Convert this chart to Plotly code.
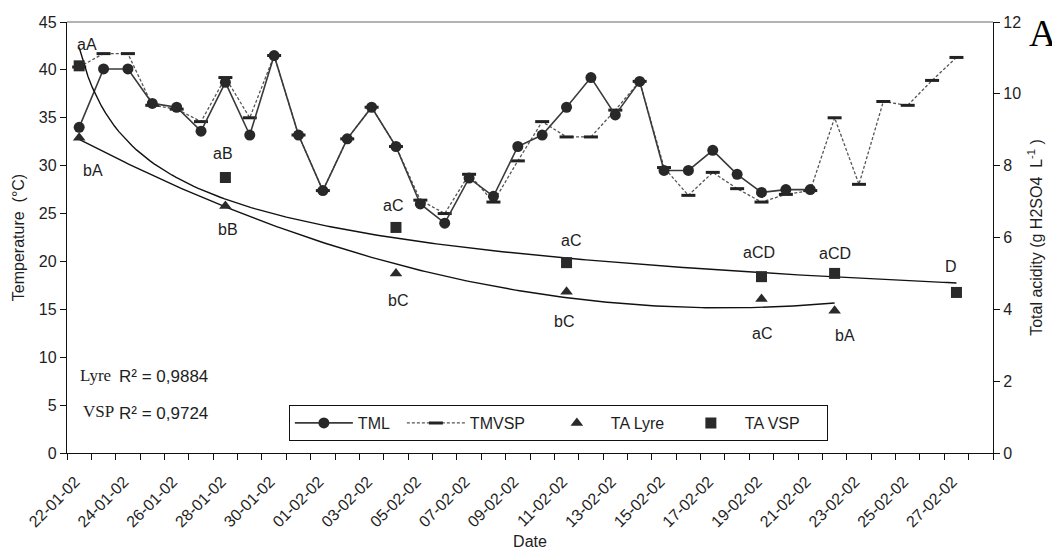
import numpy as np
import plotly.graph_objects as go

# ---------------- data ----------------
dates = ["22-01-02", "23-01-02", "24-01-02", "25-01-02", "26-01-02", "27-01-02",
         "28-01-02", "29-01-02", "30-01-02", "31-01-02", "01-02-02", "02-02-02",
         "03-02-02", "04-02-02", "05-02-02", "06-02-02", "07-02-02", "08-02-02",
         "09-02-02", "10-02-02", "11-02-02", "12-02-02", "13-02-02", "14-02-02",
         "15-02-02", "16-02-02", "17-02-02", "18-02-02", "19-02-02", "20-02-02",
         "21-02-02", "22-02-02", "23-02-02", "24-02-02", "25-02-02", "26-02-02",
         "27-02-02", "28-02-02"]

# mean temperature, Lyre (TML) -- from 22-01 to 21-02
tml = [34.0, 40.1, 40.1, 36.5, 36.1, 33.6, 38.7, 33.2, 41.5, 33.2, 27.4,
       32.8, 36.1, 32.0, 26.0, 24.0, 28.7, 26.8, 32.0, 33.2, 36.1, 39.2,
       35.3, 38.8, 29.5, 29.5, 31.6, 29.1, 27.2, 27.5, 27.5]

# mean temperature, VSP (TMVSP) -- from 22-01 to 27-02
tmvsp = [40.3, 41.7, 41.7, 36.3, 35.9, 34.6, 39.2, 35.0, 41.5, 33.2, 27.4,
         32.8, 36.1, 32.0, 26.4, 25.0, 29.1, 26.2, 30.5, 34.6, 33.0, 33.0,
         35.8, 38.8, 29.8, 26.9, 29.3, 27.6, 26.2, 27.0, 27.4, 35.0, 28.05,
         36.7, 36.3, 38.9, 41.3]

# total acidity (g H2SO4 / L)
ta_lyre_idx = [0, 6, 13, 20, 28, 31]
ta_lyre = [8.78, 6.88, 5.00, 4.49, 4.29, 3.96]
lyre_letters = ["bA", "bB", "bC", "bC", "aC", "bA"]

ta_vsp_idx = [0, 6, 13, 20, 28, 31, 36]
ta_vsp = [10.78, 7.67, 6.28, 5.30, 4.91, 5.00, 4.47]
vsp_letters = ["aA", "aB", "aC", "aC", "aCD", "aCD", "D"]

r2_lyre = "0,9884"
r2_vsp = "0,9724"

# ---------------- styles ----------------
FONT = "Liberation Sans, Arial, sans-serif"
SERIF = "Liberation Serif, Times New Roman, serif"
INK = "#1e1e1e"
lyre_shift = [(14, -33), (3, -24), (2, -27), (-3, -30), (0, -35), (10, -25)]
vsp_shift = [(8, 21), (-2, 24), (-3, 22), (4, 22), (-3, 24), (0, 20), (-5, 26)]

# ---------------- trend lines (fitted from data) ----------------
xl = np.array(ta_lyre_idx, dtype=float) + 1
coef_l = np.polyfit(xl, ta_lyre, 2)
xs_l = np.linspace(ta_lyre_idx[0], ta_lyre_idx[-1], 200)
ys_l = np.polyval(coef_l, xs_l + 1)

xv = np.array(ta_vsp_idx, dtype=float) + 1
k_v, lnc_v = np.polyfit(np.log(xv), np.log(ta_vsp), 1)
xs_v = np.linspace(ta_vsp_idx[0], ta_vsp_idx[-1], 200)
ys_v = np.exp(lnc_v) * (xs_v + 1) ** k_v

fig = go.Figure()

fig.add_trace(go.Scatter(x=xs_l, y=ys_l, yaxis="y2", mode="lines",
                         line=dict(color="#111", width=1.4), showlegend=False,
                         hoverinfo="skip"))
fig.add_trace(go.Scatter(x=xs_v, y=ys_v, yaxis="y2", mode="lines",
                         line=dict(color="#111", width=1.4), showlegend=False,
                         hoverinfo="skip"))

fig.add_trace(go.Scatter(
    x=list(range(len(tmvsp))), y=tmvsp, name="TMVSP", mode="lines+markers",
    line=dict(color="#555", width=1.3, dash="3px,2px"),
    marker=dict(symbol="line-ew", size=10, line=dict(color="#222", width=3)),
    legendrank=2, legendwidth=68))

fig.add_trace(go.Scatter(
    x=list(range(len(tml))), y=tml, name="TML", mode="lines+markers",
    line=dict(color="#3a3a3a", width=1.6),
    marker=dict(symbol="circle", size=11, color="#282828"),
    legendrank=1, legendwidth=39))

fig.add_trace(go.Scatter(
    x=ta_lyre_idx, y=ta_lyre, yaxis="y2", name="TA Lyre", mode="markers",
    marker=dict(symbol="triangle-up", size=11, color="#2a2a2a"),
    legendrank=3, legendwidth=61))

fig.add_trace(go.Scatter(
    x=ta_vsp_idx, y=ta_vsp, yaxis="y2", name="TA VSP", mode="markers",
    marker=dict(symbol="square", size=11, color="#2a2a2a"),
    legendrank=4, legendwidth=77))

annotations = []
for i, v, t, (dx, dy) in zip(ta_lyre_idx, ta_lyre, lyre_letters, lyre_shift):
    annotations.append(dict(x=i, y=v, xref="x", yref="y2", text=t, showarrow=False,
                            xshift=dx, yshift=dy, font=dict(family=FONT, size=16, color=INK)))
for i, v, t, (dx, dy) in zip(ta_vsp_idx, ta_vsp, vsp_letters, vsp_shift):
    annotations.append(dict(x=i, y=v, xref="x", yref="y2", text=t, showarrow=False,
                            xshift=dx, yshift=dy, font=dict(family=FONT, size=16, color=INK)))

annotations += [
    dict(x=0.012, y=0.1787, xref="paper", yref="paper", text="Lyre", showarrow=False,
         xanchor="left", yanchor="middle", font=dict(family=SERIF, size=17, color=INK)),
    dict(x=0.0545, y=0.1765, xref="paper", yref="paper", text="R² = " + r2_lyre,
         showarrow=False, xanchor="left", yanchor="middle",
         font=dict(family=FONT, size=17, color=INK)),
    dict(x=0.015, y=0.0955, xref="paper", yref="paper", text="VSP", showarrow=False,
         xanchor="left", yanchor="middle", font=dict(family=SERIF, size=17, color=INK)),
    dict(x=0.0545, y=0.0905, xref="paper", yref="paper", text="R² = " + r2_vsp,
         showarrow=False, xanchor="left", yanchor="middle",
         font=dict(family=FONT, size=17, color=INK)),
    dict(x=1.054, y=0.9756, xref="paper", yref="paper", text="A", showarrow=False,
         xanchor="center", yanchor="middle", font=dict(family=SERIF, size=38, color="#000")),
]

# the page body adds an 8px offset, so the figure is 8px smaller than the window
fig.update_layout(
    width=1052, height=542,
    margin=dict(l=59, r=67, t=14, b=97, autoexpand=False),
    paper_bgcolor="white", plot_bgcolor="white",
    font=dict(family=FONT, size=16, color=INK),
    showlegend=True,
    legend=dict(orientation="h", x=0.2396, xanchor="left", y=0.1114, yanchor="top",
                bordercolor="#111", borderwidth=1, bgcolor="white",
                itemwidth=58, font=dict(family=FONT, size=16, color=INK),
                traceorder="normal"),
    xaxis=dict(range=[-0.5, len(dates) - 0.5], tickmode="array", automargin=False,
               tickvals=list(range(0, len(dates), 2)), ticktext=dates[::2],
               tickangle=-45, ticks="", showline=True, linecolor="#111", linewidth=1.3,
               showgrid=False, zeroline=False, ticklabelstandoff=12, ticklabelshift=-4,
               minor=dict(tickmode="array",
                          tickvals=[i - 0.5 for i in range(len(dates) + 1)],
                          ticks="outside", ticklen=6, tickcolor="#111", tickwidth=1.2),
               title=dict(text="Date", font=dict(size=16), standoff=14),
               tickfont=dict(size=16)),
    yaxis=dict(range=[0, 45], tick0=0, dtick=5, ticks="outside", ticklen=6,
               tickcolor="#111", tickwidth=1.2, showline=True, linecolor="#111",
               linewidth=1.3, showgrid=False, zeroline=False, automargin=False,
               title=dict(text="Temperature\u00a0\u00a0(°C)", font=dict(size=16), standoff=10),
               tickfont=dict(size=16)),
    yaxis2=dict(overlaying="y", side="right", range=[0, 12], tick0=0, dtick=2,
                ticks="outside", ticklen=6, tickcolor="#111", tickwidth=1.2,
                showline=True, linecolor="#111", linewidth=1.3, showgrid=False,
                zeroline=False, automargin=False,
                title=dict(text="Total acidity (g H2SO4  L<sup>-1</sup> )",
                           font=dict(size=16), standoff=10),
                tickfont=dict(size=16)),
    shapes=[dict(type="line", xref="paper", yref="paper", x0=0, x1=1, y0=1, y1=1,
                 line=dict(color="#9a9a9a", width=1.3))],
    annotations=annotations,
)

fig.write_html("out.html")
